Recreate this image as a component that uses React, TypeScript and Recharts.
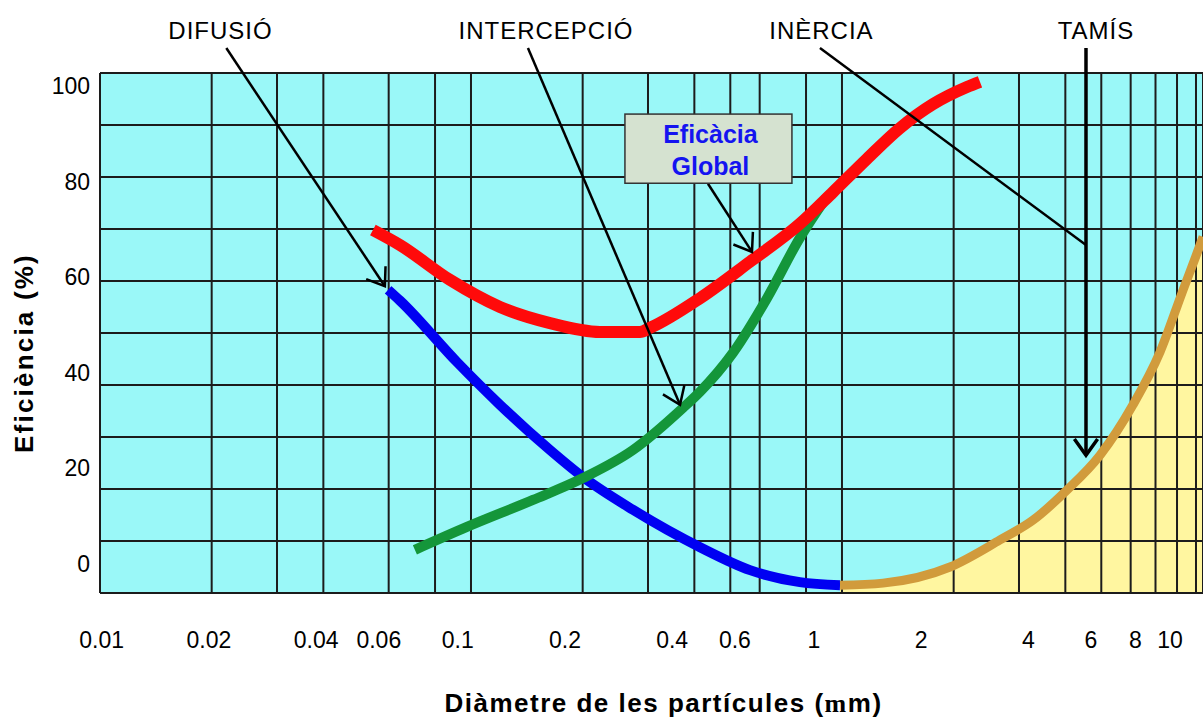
import React from 'react';
import {
  ComposedChart,
  Line,
  Area,
  XAxis,
  YAxis,
  CartesianGrid,
  ReferenceLine,
  ReferenceDot,
  ReferenceArea,
} from 'recharts';

const FONT = '"Liberation Sans", Arial, Helvetica, sans-serif';

// diàmetre (mm) i eficiència (%) llegits de la figura
const difusioX = [0.0598, 0.0644, 0.0917, 0.1197, 0.1633, 0.2004, 0.2733, 0.4144, 0.565, 0.77, 0.988];
const difusioY = [58.3, 56.2, 44.4, 36.2, 27.5, 22.3, 16.0, 8.8, 4.4, 2.1, 1.5];

const intercepcioX = [0.0706, 0.0975, 0.1469, 0.2004, 0.2733, 0.3728, 0.4144, 0.5084, 0.628, 0.77, 0.906];
const intercepcioY = [8.3, 12.7, 17.9, 22.1, 27.5, 35.6, 38.7, 46.2, 56.7, 68.3, 76.0];

const globalX = [0.0544, 0.0644, 0.0878, 0.1197, 0.1633, 0.2227, 0.2854, 0.304, 0.4144, 0.565, 0.77, 0.946, 1.168, 1.433, 1.759, 2.172, 2.355];
const globalY = [69.8, 66.9, 60.2, 55.0, 51.9, 50.2, 50.2, 51.0, 56.7, 63.7, 71.0, 77.1, 83.5, 89.4, 94.0, 97.3, 98.3];

const tamisX = [0.988, 1.29, 1.955, 2.666, 3.272, 4.042, 4.96, 6.087, 7.196, 8.25, 9.226, 9.4];
const tamisY = [1.5, 1.9, 5.0, 10.2, 14.0, 19.8, 26.5, 36.2, 46.3, 57.7, 66.9, 68.5];

// línies de la graella logarítmica i etiquetes dels eixos
const gridX = [
  0.01, 0.02, 0.03, 0.04, 0.05, 0.06, 0.07, 0.08, 0.09,
  0.1, 0.2, 0.3, 0.4, 0.5, 0.6, 0.7, 0.8, 0.9,
  1, 2, 3, 4, 5, 6, 7, 8, 9,
];
const gridY = [0, 10, 20, 30, 40, 50, 60, 70, 80, 90, 100];
const xLabels = [0.01, 0.02, 0.04, 0.06, 0.1, 0.2, 0.4, 0.6, 1, 2, 4, 6, 8, 10];
const yLabels = [0, 20, 40, 60, 80, 100];
const xLabelsLog = xLabels.map((v) => Math.log10(v));
const labelRows = xLabelsLog.map((lx) => ({ lx }));

// anotacions: nom, posició del text, inici i final de la fletxa
const noteNames = ['DIFUSIÓ', 'INTERCEPCIÓ', 'INÈRCIA', 'TAMÍS'];
const noteTextX = [0.02113, 0.1593, 0.8805, 4.838];
const noteTextY = 106.6;
const arrowFrom = [[0.0219, 104.8], [0.1424, 104.8], [0.8723, 104.8], [4.547, 104.8]];
const arrowTo = [[0.0586, 59.0], [0.366, 36.2], [4.547, 66.9], [4.547, 26.5]];
const arrowHead = [true, true, false, true];

const globalBoxX = [0.26, 0.733];
const globalBoxY = [78.8, 92.1];
const globalArrow = [[0.4353, 78.7], [0.572, 65.6]];

const toPoints = (xs: number[], ys: number[]) => xs.map((d, i) => ({ d, e: ys[i] }));

const difusio = toPoints(difusioX, difusioY);
const intercepcio = toPoints(intercepcioX, intercepcioY);
const global = toPoints(globalX, globalY);
const tamis = toPoints(tamisX, tamisY);

const arrowShape = (head: boolean, width: number) => (p: any) => {
  const { x1, y1, x2, y2 } = p;
  const a = Math.atan2(y2 - y1, x2 - x1);
  const len = 20;
  const spread = 0.62;
  const ax = x2 - len * Math.cos(a - spread);
  const ay = y2 - len * Math.sin(a - spread);
  const bx = x2 - len * Math.cos(a + spread);
  const by = y2 - len * Math.sin(a + spread);
  return (
    <g>
      <line x1={x1} y1={y1} x2={x2} y2={y2} stroke="#000" strokeWidth={width} />
      {head && (
        <polyline
          points={`${ax},${ay} ${x2},${y2} ${bx},${by}`}
          fill="none"
          stroke="#000"
          strokeWidth={width}
        />
      )}
    </g>
  );
};

const noteText = (name: string) => (p: any) => (
  <text
    x={p.cx}
    y={p.cy}
    textAnchor="middle"
    fontFamily={FONT}
    fontSize={24}
    letterSpacing={1}
    fill="#000"
  >
    {name}
  </text>
);

const globalBox = (p: any) => {
  const cx = p.x + p.width / 2;
  const cy = p.y + p.height / 2;
  return (
    <g>
      <rect x={p.x} y={p.y} width={p.width} height={p.height} fill="#D5E2D0" stroke="#333" strokeWidth={1.5} />
      <text x={cx + 2} y={cy - 15} textAnchor="middle" dominantBaseline="central" fontFamily={FONT} fontWeight="bold" fontSize={25} fill="#1414F0">
        Eficàcia
      </text>
      <text x={cx + 2} y={cy + 17} textAnchor="middle" dominantBaseline="central" fontFamily={FONT} fontWeight="bold" fontSize={25} fill="#1414F0">
        Global
      </text>
    </g>
  );
};

const xTitle = (p: any) => {
  const vb = p.viewBox;
  return (
    <text
      x={vb.x + vb.width / 2 + 12}
      y={vb.y + 119}
      textAnchor="middle"
      fontFamily={FONT}
      fontWeight="bold"
      fontSize={26}
      letterSpacing={1.5}
      fill="#000"
    >
      Diàmetre de les partícules (
      <tspan fontFamily='"Liberation Serif", "Times New Roman", serif'>m</tspan>
      m)
    </text>
  );
};

const yTitle = (p: any) => {
  const vb = p.viewBox;
  const cx = vb.x + 24;
  const cy = vb.y + vb.height / 2 + 20;
  return (
    <text
      x={cx}
      y={cy}
      dy="0.358em"
      transform={`rotate(-90, ${cx}, ${cy})`}
      textAnchor="middle"
      fontFamily={FONT}
      fontWeight="bold"
      fontSize={26}
      letterSpacing={2.2}
      fill="#000"
    >
      Eficiència (%)
    </text>
  );
};

const formatX = (v: number) => {
  const i = xLabelsLog.findIndex((l) => Math.abs(l - v) < 1e-9);
  return i >= 0 ? String(xLabels[i]) : '';
};

export default function App() {
  const tick = { fontSize: 23, fill: '#000', fontFamily: FONT };
  return (
    <div style={{ position: 'absolute', left: 0, top: 0, background: '#fff' }}>
      <ComposedChart
        width={1203}
        height={718}
        data={labelRows}
        margin={{ top: 73, right: 0, bottom: 0, left: 0 }}
        style={{ fontFamily: FONT }}
      >
        <XAxis
          xAxisId="data"
          dataKey="d"
          type="number"
          scale="log"
          domain={[0.01, 9.4]}
          ticks={gridX}
          allowDataOverflow
          height={0}
          hide
        />
        <XAxis
          xAxisId="lab"
          dataKey="lx"
          type="number"
          domain={[-2.0048, 1.0927]}
          ticks={xLabelsLog}
          tickFormatter={formatX}
          allowDataOverflow
          interval={0}
          height={125}
          axisLine={false}
          tickLine={false}
          tickSize={0}
          tickMargin={39}
          tick={tick}
          label={xTitle}
        />
        <YAxis
          yAxisId="data"
          type="number"
          domain={[0, 100]}
          ticks={gridY}
          allowDataOverflow
          width={0}
          hide
        />
        <YAxis
          yAxisId="lab"
          type="number"
          domain={[-6.2, 102.7]}
          ticks={yLabels}
          allowDataOverflow
          interval={0}
          width={100}
          axisLine={false}
          tickLine={false}
          tickSize={0}
          tickMargin={10}
          tick={tick}
          label={yTitle}
        />

        <CartesianGrid
          xAxisId="data"
          yAxisId="data"
          horizontal={false}
          vertical={false}
          fill="#9AF8F8"
          fillOpacity={1}
        />
        <Area
          data={tamis}
          dataKey="e"
          xAxisId="data"
          yAxisId="data"
          type="monotone"
          stroke="none"
          fill="#FFF6A0"
          fillOpacity={1}
          isAnimationActive={false}
        />
        <CartesianGrid
          xAxisId="data"
          yAxisId="data"
          stroke="#1c1c1c"
          strokeWidth={2}
          zIndex={150}
        />

        <Line data={difusio} dataKey="e" xAxisId="data" yAxisId="data" type="monotone" stroke="#0000F2" strokeWidth={10} dot={false} isAnimationActive={false} />
        <Line data={intercepcio} dataKey="e" xAxisId="data" yAxisId="data" type="monotone" stroke="#14963A" strokeWidth={10} dot={false} isAnimationActive={false} />
        <Line data={global} dataKey="e" xAxisId="data" yAxisId="data" type="monotone" stroke="#FF0A0A" strokeWidth={12} dot={false} isAnimationActive={false} />
        <Line data={tamis} dataKey="e" xAxisId="data" yAxisId="data" type="monotone" stroke="#D19B3C" strokeWidth={9} dot={false} isAnimationActive={false} />

        {noteNames.map((name, i) => (
          <ReferenceLine
            key={`a-${name}`}
            xAxisId="data"
            yAxisId="data"
            segment={[
              { x: arrowFrom[i][0], y: arrowFrom[i][1] },
              { x: arrowTo[i][0], y: arrowTo[i][1] },
            ]}
            ifOverflow="visible"
            zIndex={1500}
            shape={arrowShape(arrowHead[i], name === 'TAMÍS' ? 3.5 : 2.5)}
          />
        ))}
        {noteNames.map((name, i) => (
          <ReferenceDot
            key={`t-${name}`}
            xAxisId="data"
            yAxisId="data"
            x={noteTextX[i]}
            y={noteTextY}
            r={0}
            ifOverflow="visible"
            zIndex={1500}
            shape={noteText(name)}
          />
        ))}

        <ReferenceLine
          xAxisId="data"
          yAxisId="data"
          segment={[
            { x: globalArrow[0][0], y: globalArrow[0][1] },
            { x: globalArrow[1][0], y: globalArrow[1][1] },
          ]}
          ifOverflow="visible"
          zIndex={1500}
          shape={arrowShape(true, 2.5)}
        />
        <ReferenceArea
          xAxisId="data"
          yAxisId="data"
          x1={globalBoxX[0]}
          x2={globalBoxX[1]}
          y1={globalBoxY[0]}
          y2={globalBoxY[1]}
          ifOverflow="visible"
          zIndex={1500}
          shape={globalBox}
        />
      </ComposedChart>
    </div>
  );
}
